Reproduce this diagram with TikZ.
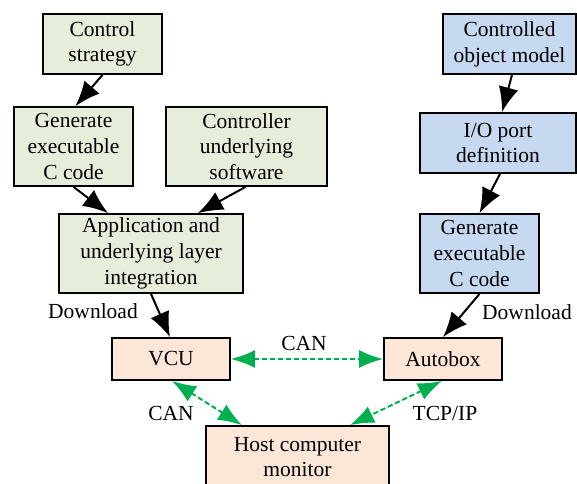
\documentclass[tikz,border=0pt]{standalone}
\usepackage{fontspec}
\setmainfont{Liberation Serif}
\usetikzlibrary{arrows.meta}
\definecolor{gfill}{HTML}{E6EEDB}
\definecolor{bfill}{HTML}{C6D9F0}
\definecolor{pfill}{HTML}{FBE6D8}
\definecolor{garrow}{HTML}{00B050}
\tikzset{
  box/.style={draw=black, line width=1.8pt, inner sep=0pt, align=center,
    font=\rmfamily\fontsize{21.5}{25.7}\selectfont},
  gbox/.style={box, fill=gfill},
  bbox/.style={box, fill=bfill},
  pbox/.style={box, fill=pfill},
  lbl/.style={inner sep=0pt, font=\rmfamily\fontsize{21.5}{25.7}\selectfont},
  flow/.style={line width=2pt, -{Latex[length=25pt,width=20pt]}},
  link/.style={draw=garrow, line width=2pt, dash pattern=on 5pt off 3pt,
    {Latex[length=24pt,width=18pt]}-{Latex[length=24pt,width=18pt]},
    fill=garrow},
}
\begin{document}
\begin{tikzpicture}[x=1pt,y=-1pt]
\useasboundingbox[fill=white] (0,0) rectangle (577,483);
% left column
\node[gbox, minimum width=119pt, minimum height=60pt] (cs) at (102.5,44) {Control\\strategy};
\node[gbox, minimum width=119pt, minimum height=79pt] (gl) at (73.5,146.5) {Generate\\executable\\C code};
\node[gbox, minimum width=161pt, minimum height=79pt] (cu) at (246.5,146.5) {Controller\\underlying\\software};
\node[gbox, minimum width=184pt, minimum height=79pt] (app) at (151,253.5) {Application and\\underlying layer\\integration};
% right column
\node[bbox, minimum width=133pt, minimum height=60pt] (com) at (509.5,44) {Controlled\\object model};
\node[bbox, minimum width=156pt, minimum height=60pt] (io) at (498,143) {I/O port\\definition};
\node[bbox, minimum width=119pt, minimum height=79pt] (gr) at (479.5,253.5) {Generate\\executable\\C code};
% hardware
\node[pbox, minimum width=118pt, minimum height=42pt] (vcu) at (171,359) {VCU};
\node[pbox, minimum width=118pt, minimum height=42pt] (ab) at (443,359) {Autobox};
\node[pbox, minimum width=183pt, minimum height=62pt, text depth=0pt] (host) at (297.5,457) {Host computer\\monitor};
% labels
\node[lbl] (dl) at (93,311) {Download};
\node[lbl] (dr) at (527,312) {Download};
\node[lbl] (can1) at (304,343) {CAN};
\node[lbl] (can2) at (171,413) {CAN};
\node[lbl] (tcp) at (445,413) {TCP/IP};
% black flows
\draw[flow] (cs.south) -- ([xshift=2pt]gl.north);
\draw[flow] (gl.south) -- ([xshift=-43pt]app.north);
\draw[flow] ([xshift=-1pt]cu.south) -- ([xshift=47pt]app.north);
\draw[flow] (app.south) -- ([xshift=-1pt]vcu.north);
\draw[flow] ([xshift=2.5pt]com.south) -- ([xshift=4pt]io.north);
\draw[flow] ([xshift=2pt]io.south) -- (gr.north);
\draw[flow] (gr.south) -- (ab.north);
% green links
\draw[link] (vcu.east) -- (ab.west);
\draw[link] ([xshift=1pt]vcu.south) -- ([xshift=-55.5pt]host.north);
\draw[link] ([xshift=-1pt]ab.south) -- ([xshift=52.5pt]host.north);
\end{tikzpicture}
\end{document}
